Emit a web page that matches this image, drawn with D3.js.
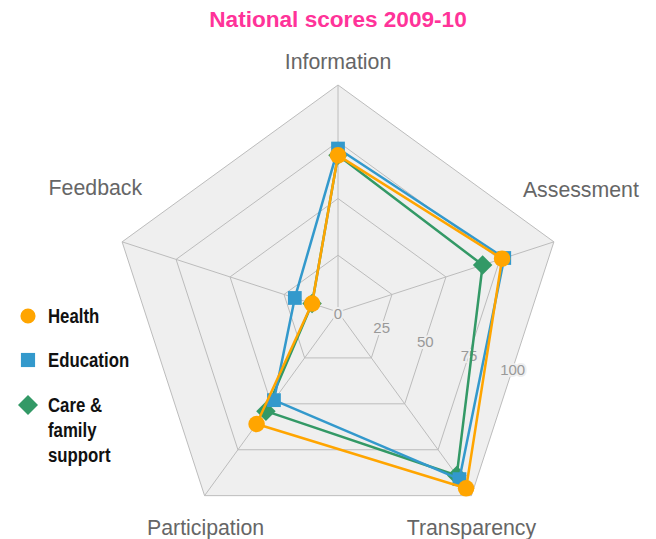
<!DOCTYPE html>
<html>
<head>
<meta charset="utf-8">
<script src="https://cdn.jsdelivr.net/npm/d3@7"></script>
<style>
  html, body { margin: 0; padding: 0; background: #fff; }
  svg { display: block; }
</style>
</head>
<body>
<script>
// ---- data ----
const axesNames = ["Information", "Assessment", "Transparency", "Participation", "Feedback"];
const seriesNames = ["Health", "Education", "Care & family support"];
const healthValues = [69, 76, 96, 61, 12];
const educationValues = [72, 77, 91, 48, 20];
const careValues = [69, 67, 89, 54, 12];
const tickValues = [0, 25, 50, 75, 100];
const titleText = "National scores 2009-10";

// ---- layout ----
const W = 656, H = 539;
const cx = 338, cy = 312, R = 227;
const colors = { "Health": "#ffa500", "Education": "#3399cc", "Care & family support": "#339966" };
const symbols = { "Health": d3.symbolCircle, "Education": d3.symbolSquare, "Care & family support": d3.symbolSquare };
const symRot = { "Health": 0, "Education": 0, "Care & family support": 45 };
const symSizes = { "Health": 215, "Education": 190, "Care & family support": 190 };

const svg = d3.select("body").append("svg").attr("width", W).attr("height", H);

const rScale = d3.scaleLinear().domain([0, 100]).range([0, R]);
const angle = d3.scaleLinear().domain([0, axesNames.length]).range([0, 2 * Math.PI]);

const g = svg.append("g").attr("transform", `translate(${cx},${cy})`);

function pt(i, v) {
  const a = angle(i), r = rScale(v);
  return [r * Math.sin(a), -r * Math.cos(a)];
}

// background
const ringLine = d3.lineRadial().angle((d, i) => angle(i)).radius(d => rScale(d)).curve(d3.curveLinearClosed);
g.append("path")
  .attr("d", ringLine(axesNames.map(() => 100)))
  .attr("fill", "#efefef");

// grid rings
tickValues.filter(t => t > 0).forEach(t => {
  g.append("path")
    .attr("d", ringLine(axesNames.map(() => t)))
    .attr("fill", "none")
    .attr("stroke", "#bcbcbc")
    .attr("stroke-width", 1);
});

// spokes
axesNames.forEach((n, i) => {
  const p = pt(i, 100);
  g.append("line").attr("x1", 0).attr("y1", 0).attr("x2", p[0]).attr("y2", p[1])
    .attr("stroke", "#bcbcbc").attr("stroke-width", 1);
});

// tick labels along angle between axis 1 and 2
const tickAngle = (angle(1) + angle(2)) / 2;
const cos36 = Math.cos(Math.PI / 5);
tickValues.forEach(t => {
  const r = rScale(t) * cos36;
  g.append("text")
    .attr("x", r * Math.sin(tickAngle))
    .attr("y", -r * Math.cos(tickAngle) + 1)
    .attr("text-anchor", "middle")
    .attr("dominant-baseline", "central")
    .attr("font-family", "Liberation Sans, Arial, sans-serif")
    .attr("font-size", 15)
    .attr("fill", "#999")
    .attr("stroke", "#efefef")
    .attr("stroke-width", 4)
    .attr("paint-order", "stroke")
    .text(t);
});

// axis labels
const labelLayout = [
  { anchor: "middle", dx: 0, dy: -16 },
  { anchor: "start", dx: -31, dy: -45 },
  { anchor: "middle", dx: 0, dy: 39 },
  { anchor: "middle", dx: 1, dy: 39 },
  { anchor: "end", dx: 20, dy: -47 }
];
axesNames.forEach((n, i) => {
  const p = pt(i, 100);
  const L = labelLayout[i];
  g.append("text")
    .attr("x", p[0] + L.dx)
    .attr("y", p[1] + L.dy)
    .attr("text-anchor", L.anchor)
    .attr("font-family", "Liberation Sans, Arial, sans-serif")
    .attr("font-size", 21.3)
    .attr("fill", "#666")
    .text(n);
});

// series
const seriesData = [
  { name: seriesNames[0], values: healthValues },
  { name: seriesNames[1], values: educationValues },
  { name: seriesNames[2], values: careValues }
];
const seriesLine = d3.lineRadial().angle((d, i) => angle(i)).radius(d => rScale(d)).curve(d3.curveLinearClosed);

seriesData.slice().reverse().forEach(s => {
  const sg = g.append("g");
  sg.append("path")
    .attr("d", seriesLine(s.values))
    .attr("fill", "none")
    .attr("stroke", colors[s.name])
    .attr("stroke-width", 2.5)
    .attr("stroke-linejoin", "round");
  s.values.forEach((v, i) => {
    const p = pt(i, v);
    sg.append("path")
      .attr("transform", `translate(${p[0]},${p[1]}) rotate(${symRot[s.name]})`)
      .attr("d", d3.symbol().type(symbols[s.name]).size(symSizes[s.name])())
      .attr("fill", colors[s.name]);
  });
});

// title
svg.append("text")
  .attr("x", cx)
  .attr("y", 27)
  .attr("text-anchor", "middle")
  .attr("font-family", "Liberation Sans, Arial, sans-serif")
  .attr("font-weight", "bold")
  .attr("font-size", 22.6)
  .attr("fill", "#ff3399")
  .text(titleText);

// legend
const legendFont = "'Liberation Sans', Arial, sans-serif";
const legendLines = [["Health"], ["Education"], ["Care &", "family", "support"]];
const legendY = [316, 360, 405];
const legendSizes = { "Health": 180, "Education": 200, "Care & family support": 200 };
seriesData.forEach((s, k) => {
  const lg = svg.append("g").attr("transform", `translate(28,${legendY[k]})`);
  lg.append("path")
    .attr("transform", `rotate(${symRot[s.name]})`)
    .attr("d", d3.symbol().type(symbols[s.name]).size(legendSizes[s.name])())
    .attr("fill", colors[s.name]);
  const t = lg.append("text")
    .attr("transform", "translate(20,7) scale(0.8,1)")
    .attr("font-family", legendFont)
    .attr("font-weight", "bold")
    .attr("font-size", 21)
    .attr("fill", "#111");
  legendLines[k].forEach((line, j) => {
    t.append("tspan").attr("x", 0).attr("dy", j === 0 ? 0 : 25).text(line);
  });
});
</script>
</body>
</html>
